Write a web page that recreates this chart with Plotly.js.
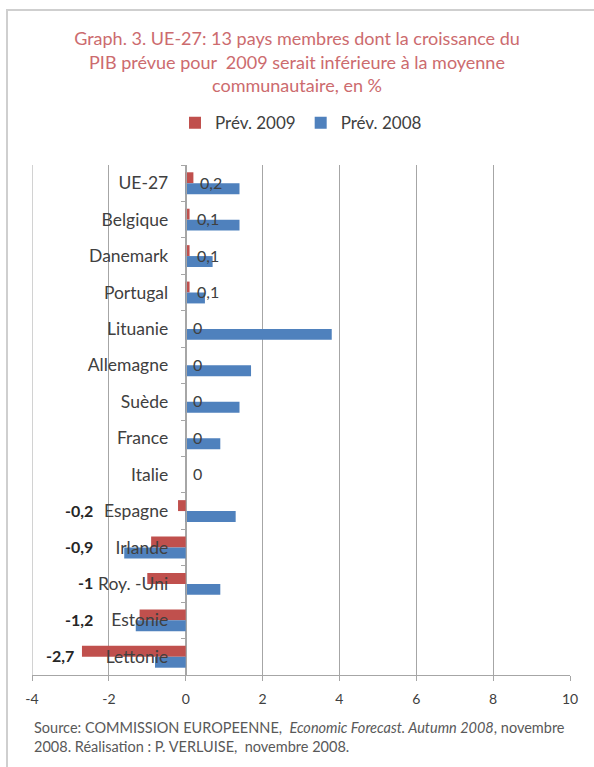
<!DOCTYPE html>
<html>
<head>
<meta charset="utf-8">
<script src="https://cdn.plot.ly/plotly-3.0.1.min.js"></script>
<style>
html,body{margin:0;padding:0;background:#fff;}
#wrap{position:relative;width:594px;height:767px;}
#chart{position:absolute;left:0;top:0;width:594px;height:767px;}
#frame{position:absolute;left:6px;top:9px;width:588px;height:758px;border-left:2px solid #cfcfcf;border-top:2px solid #cfcfcf;pointer-events:none;}
</style>
</head>
<body>
<div id="wrap"><div id="chart"></div><div id="frame"></div></div>
<script>
const categories = ["UE-27","Belgique","Danemark","Portugal","Lituanie","Allemagne","Suède","France","Italie","Espagne","Irlande","Roy. -Uni","Estonie","Lettonie"];
const prev2009 = [0.2, 0.1, 0.1, 0.1, 0, 0, 0, 0, 0, -0.2, -0.9, -1, -1.2, -2.7];
const prev2008 = [1.4, 1.4, 0.7, 0.5, 3.8, 1.7, 1.4, 0.9, 0, 1.3, -1.6, 0.9, -1.3, -0.8];
const xTickVals = [-4, -2, 0, 2, 4, 6, 8, 10];
const xTickText = ["-4", "-2", "0", "2", "4", "6", "8", "10"];

const RED = "#C0504D", BLUE = "#4F81BD";
const FONT = "Lato, 'Open Sans', sans-serif";

const traces = [
  {type: "bar", orientation: "h", name: "Prév. 2009", y: categories, x: prev2009,
   marker: {color: RED}, hoverinfo: "x+y"},
  {type: "bar", orientation: "h", name: "Prév. 2008", y: categories, x: prev2008,
   marker: {color: BLUE}, hoverinfo: "x+y"}
];

const fmt = v => String(v).replace(".", ",");
const annotations = prev2009.map((v, i) => {
  if (v >= 0) {
    return {x: v, y: categories[i], xref: "x", yref: "y", text: fmt(v),
      xanchor: "left", yanchor: "middle", xshift: 5, yshift: 1, showarrow: false,
      font: {family: FONT, size: 16, color: "#404040"}};
  }
  return {x: Math.min(v, -2.2), y: categories[i], xref: "x", yref: "y", text: "<b>" + fmt(v) + "</b>",
    xanchor: "right", yanchor: "middle", xshift: -6, yshift: 1, showarrow: false,
    font: {family: FONT, size: 16, color: "#262626"}};
});
annotations.push({
  xref: "paper", yref: "paper", x: 0, y: -0.082, xanchor: "left", yanchor: "top", align: "left",
  showarrow: false,
  text: "Source: COMMISSION EUROPEENNE,  <i>Economic Forecast. Autumn 2008</i>, novembre<br>2008. Réalisation : P. VERLUISE,  novembre 2008.",
  font: {family: FONT, size: 14.5, color: "#595959"}
});

const layout = {
  width: 594, height: 767,
  margin: {l: 32, r: 24, t: 165, b: 92},
  paper_bgcolor: "#fff", plot_bgcolor: "#fff",
  font: {family: FONT, color: "#404040"},
  title: {
    text: "Graph. 3. UE-27: 13 pays membres dont la croissance du<br>PIB prévue pour  2009 serait inférieure à la moyenne<br>communautaire, en %",
    font: {family: FONT, size: 18, color: "#CC6B6E"},
    x: 0.5, xref: "container", xanchor: "center",
    y: 0.941, yref: "container", yanchor: "top"
  },
  showlegend: true,
  legend: {orientation: "h", x: 0.5, xanchor: "center", y: 1.082, yanchor: "middle",
    font: {family: FONT, size: 17, color: "#404040"}, traceorder: "normal"},
  barmode: "group", bargap: 0.4, bargroupgap: 0,
  xaxis: {
    range: [-4, 10], tickvals: xTickVals, ticktext: xTickText,
    showgrid: true, gridcolor: "#a6a6a6", gridwidth: 1,
    zeroline: false, showline: true, linecolor: "#a6a6a6", linewidth: 1,
    ticks: "outside", ticklen: 5, tickcolor: "#a6a6a6",
    tickfont: {family: FONT, size: 14, color: "#404040"},
    ticklabelstandoff: 6, fixedrange: true
  },
  yaxis: {
    type: "category", autorange: "reversed",
    anchor: "free", position: 4 / 14,
    showline: true, linecolor: "#a6a6a6", linewidth: 1,
    ticks: "outside", tickson: "boundaries", ticklen: 5, tickcolor: "#a6a6a6",
    showgrid: false, zeroline: false,
    tickfont: {family: FONT, size: 17.5, color: "#404040"},
    ticklabelstandoff: 14, fixedrange: true
  },
  annotations: annotations,
  shapes: [{type: "line", xref: "x", yref: "paper", x0: -4, x1: -4, y0: 0, y1: 1,
    line: {color: "#a6a6a6", width: 1}}]
};

Plotly.newPlot("chart", traces, layout, {displayModeBar: false, staticPlot: true});
</script>
</body>
</html>
